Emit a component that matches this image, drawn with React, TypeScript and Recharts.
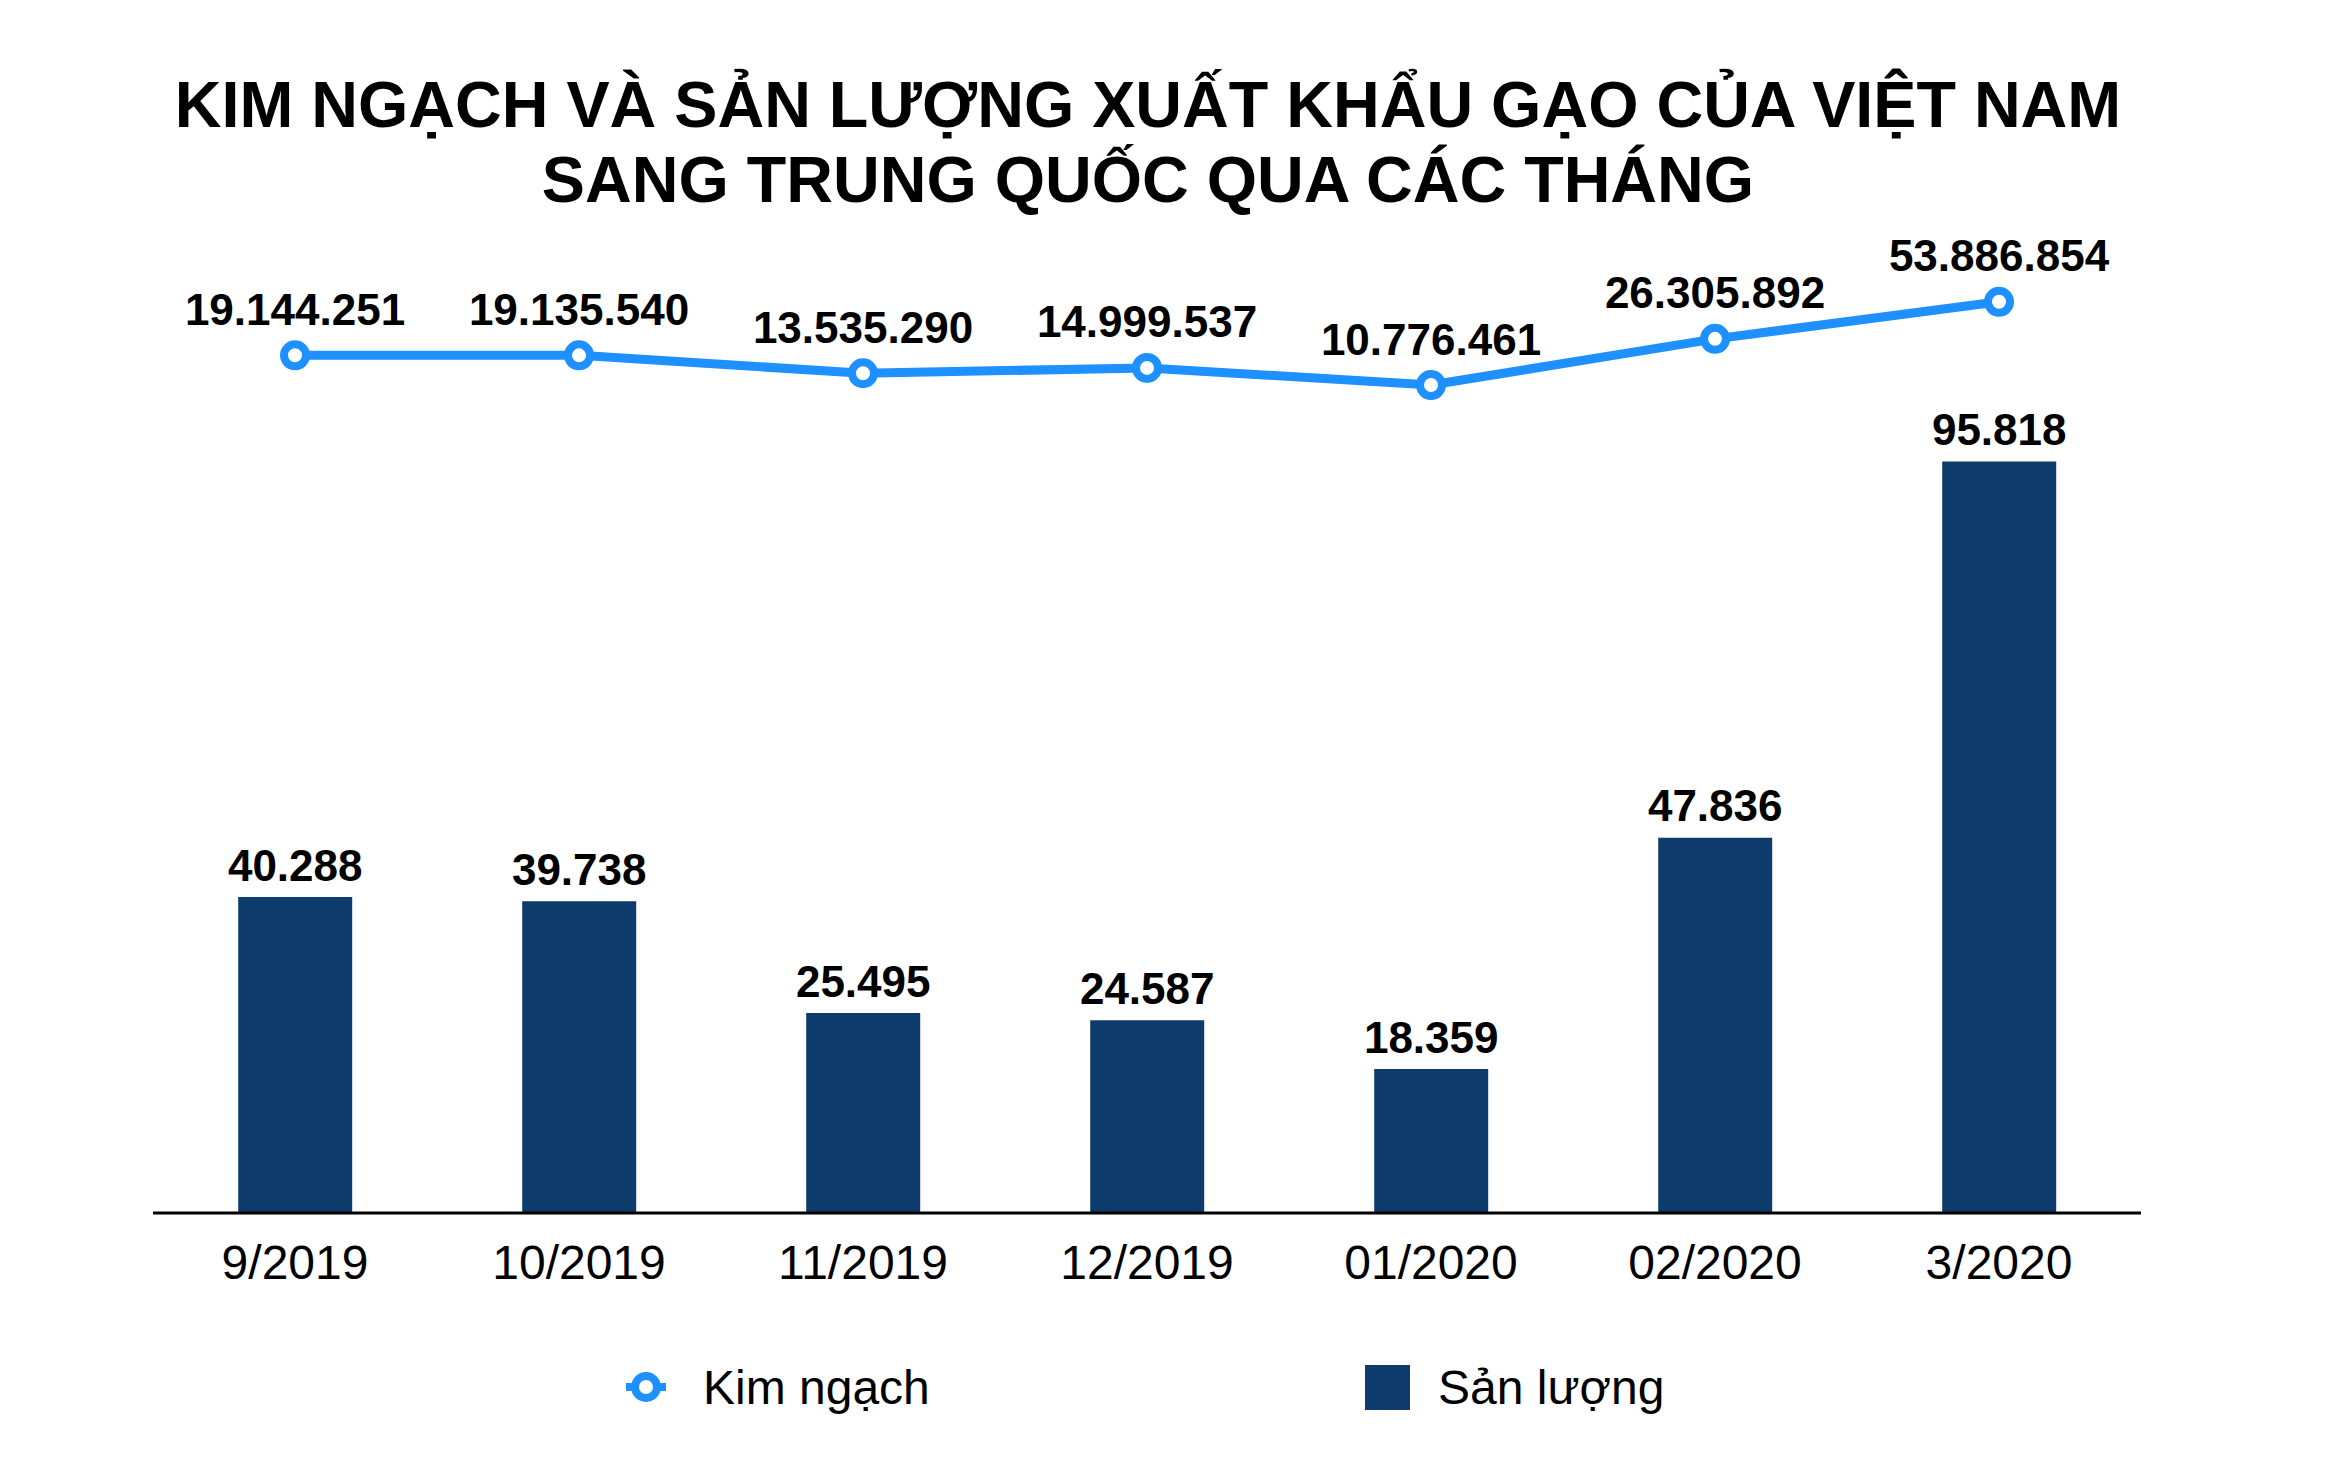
import React from "react";
import { ComposedChart, Bar, Line, XAxis, YAxis, LabelList } from "recharts";

const months = ["9/2019", "10/2019", "11/2019", "12/2019", "01/2020", "02/2020", "3/2020"];
const kimNgach = [19144251, 19135540, 13535290, 14999537, 10776461, 26305892, 53886854];
const sanLuong = [40288, 39738, 25495, 24587, 18359, 47836, 95818];

const data = months.map((m, i) => ({ month: m, kimNgach: kimNgach[i], sanLuong: sanLuong[i] }));

const BLUE = "#1e90ff";
const NAVY = "#0d3b6b";
const FONT = "'Liberation Sans', Arial, Helvetica, sans-serif";

const fmt = (n: number) => String(n).replace(/\B(?=(\d{3})+(?!\d))/g, ".");

const LineLabel = (props: any) => {
  const { x, y, value } = props;
  return (
    <text x={x} y={y - 46} textAnchor="middle" dominantBaseline="central" fontFamily={FONT} fontWeight="bold" fontSize={44} fill="#000">
      {fmt(value)}
    </text>
  );
};

const BarLabel = (props: any) => {
  const { x, y, width, value } = props;
  return (
    <text x={x + width / 2} y={y - 32} textAnchor="middle" dominantBaseline="central" fontFamily={FONT} fontWeight="bold" fontSize={44} fill="#000">
      {fmt(value)}
    </text>
  );
};

export default function App() {
  return (
    <div style={{ position: "absolute", left: 0, top: 0, width: 2334, height: 1480, background: "#fff", fontFamily: FONT }}>
      <div style={{ position: "absolute", left: 0, top: 67, width: 2296, textAlign: "center", fontSize: 64.7, lineHeight: "75px", fontWeight: "bold", color: "#000" }}>
        <div>KIM NGẠCH VÀ SẢN LƯỢNG XUẤT KHẨU GẠO CỦA VIỆT NAM</div>
        <div>SANG TRUNG QUỐC QUA CÁC THÁNG</div>
      </div>
      <div style={{ position: "absolute", left: 0, top: 0 }}>
        <ComposedChart
          width={2334}
          height={1480}
          data={data}
          margin={{ top: 213, right: 193, left: 153, bottom: 167 }}
          barCategoryGap="30%"
        >
          <XAxis
            dataKey="month"
            height={100}
            axisLine={{ stroke: "#000", strokeWidth: 3 }}
            tickLine={false}
            tickMargin={26}
            interval={0}
            tick={{ fontSize: 48, fill: "#000", fontFamily: FONT }}
          />
          <YAxis yAxisId="bar" hide domain={[0, 127500]} allowDataOverflow />
          <YAxis yAxisId="line" hide scale="log" domain={[1.2, 300000000]} allowDataOverflow orientation="right" />
          <Bar yAxisId="bar" dataKey="sanLuong" fill={NAVY} isAnimationActive={false}>
            <LabelList dataKey="sanLuong" content={BarLabel} />
          </Bar>
          <Line
            yAxisId="line"
            dataKey="kimNgach"
            stroke={BLUE}
            strokeWidth={9}
            dot={{ r: 11, fill: "#fff", stroke: BLUE, strokeWidth: 8 }}
            isAnimationActive={false}
          >
            <LabelList dataKey="kimNgach" content={LineLabel} />
          </Line>
        </ComposedChart>
      </div>
      <div style={{ position: "absolute", left: 626, top: 1362, height: 50, display: "flex", alignItems: "center" }}>
        <svg width={40} height={40}>
          <line x1={0} y1={20} x2={40} y2={20} stroke={BLUE} strokeWidth={8} />
          <circle cx={20} cy={20} r={11} fill="#fff" stroke={BLUE} strokeWidth={8} />
        </svg>
        <span style={{ marginLeft: 37, fontSize: 48, color: "#000" }}>Kim ngạch</span>
      </div>
      <div style={{ position: "absolute", left: 1365, top: 1362, height: 50, display: "flex", alignItems: "center" }}>
        <div style={{ width: 45, height: 45, background: NAVY }} />
        <span style={{ marginLeft: 28, fontSize: 48, color: "#000" }}>Sản lượng</span>
      </div>
    </div>
  );
}
